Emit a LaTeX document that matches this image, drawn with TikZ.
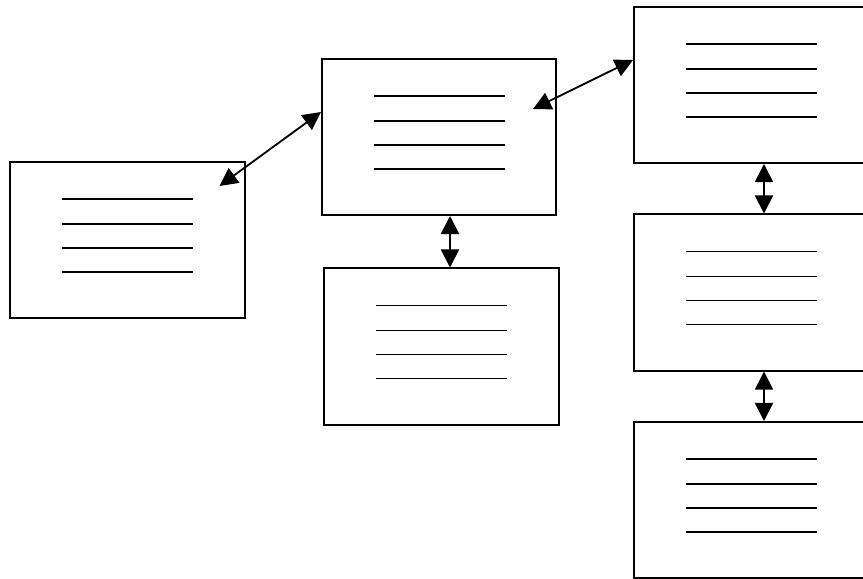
\documentclass[tikz,border=0pt]{standalone}
\usepackage{tikz}
\usetikzlibrary{arrows.meta,calc}

\begin{document}
\begin{tikzpicture}[
  x=0.025cm, y=-0.025cm,
  box/.style={draw, line width=1.4pt, minimum width=5.85cm, minimum height=3.9cm, inner sep=0pt},
  textline/.style={line width=1.3pt},
  link/.style={<->, line width=1.3pt},
  >={Triangle[length=0.45cm, width=0.45cm]}
]
\useasboundingbox (0,0) rectangle (863,579);
\node[box] (src) at (127.5,240) {};
\node[box] (hub) at (439,137) {};
\node[box] (sub) at (441.5,346.5) {};
\node[box] (top) at (751,85) {};
\node[box] (mid) at (751,292.5) {};
\node[box] (bot) at (751,500) {};
% placeholder text lines in every box
\foreach \b in {src,hub,sub,top,mid,bot}
  \foreach \dy in {-41,-16,8,32}
    \draw[textline] ($(\b.center)+(-65.5,\dy)$) -- ++(131,0);
\coordinate (hubdown) at ($(hub.south)+(11,0)$);
\coordinate (topdown) at ($(top.south)+(13,0)$);
\coordinate (middown) at ($(mid.south)+(13,0)$);
\draw[link] ($(src.north east)+(-26,25)$) -- ($(hub.west)+(0,-25)$);
\draw[link] ($(hub.north east)+(-24,51)$) -- ($(top.west)+(0,-25)$);
\draw[link] (hubdown) -- (hubdown |- sub.north);
\draw[link] (topdown) -- (topdown |- mid.north);
\draw[link] (middown) -- (middown |- bot.north);
\end{tikzpicture}
\end{document}
